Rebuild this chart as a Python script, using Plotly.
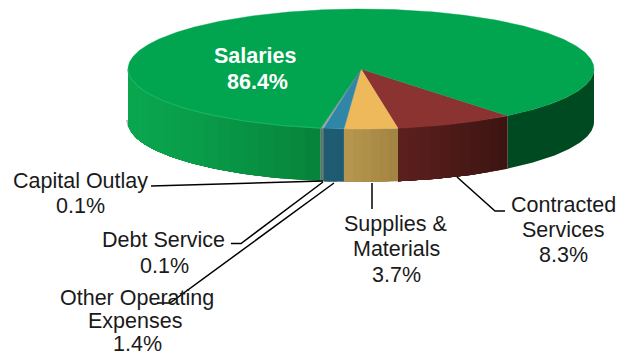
import numpy as np
import plotly.graph_objects as go

categories = ["Contracted Services", "Supplies & Materials", "Other Operating Expenses",
              "Debt Service", "Capital Outlay", "Salaries"]
values = [8.3, 3.7, 1.4, 0.1, 0.1, 86.4]

top_colors = ["#8a3331", "#edb95b", "#2f86a6", "#6f8f8f", "#7a7a70", "#01a44f"]
side_left = ["#5e201e", "#ba9a50", "#1f5d73", "#50686a", "#6a6a60", "#0aa64f"]
side_right = ["#3c1512", "#a38543", "#1f5b70", "#50686a", "#6a6a60", "#004a22"]

CX, CY, RX, RY, DEPTH = 361, 69, 233, 60, 53
START_DEG = 51

fig = go.Figure()


def px(t):
    return CX + RX * np.cos(np.radians(t))


def py(t, d=0):
    return CY + RY * np.sin(np.radians(t)) + d


def lerp(c1, c2, f):
    a = [int(c1[i:i + 2], 16) for i in (1, 3, 5)]
    b = [int(c2[i:i + 2], 16) for i in (1, 3, 5)]
    return "rgb(%d,%d,%d)" % tuple(round(a[i] + (b[i] - a[i]) * f) for i in range(3))


def poly(xs, ys, color, lw=0):
    fig.add_trace(go.Scatter(x=xs, y=ys, mode="lines", fill="toself", fillcolor=color,
                             line=dict(color=color, width=lw), hoverinfo="skip", showlegend=False))


def wall(t0, t1, color):
    ts = np.linspace(t0, t1, max(3, int(abs(t1 - t0)) * 2))
    poly(list(px(ts)) + list(px(ts[::-1])) + [px(ts[0])],
         list(py(ts)) + list(py(ts[::-1], DEPTH)) + [py(ts[0])], color)


edges = START_DEG + np.cumsum([0] + values) * 3.6

# soft shadow under left tail
fig.add_trace(go.Scatter(x=[px(180) - 1, px(176)], y=[py(180, DEPTH) - 2, py(176, DEPTH)], mode="lines",
                         line=dict(color="#b8b8b8", width=2), hoverinfo="skip", showlegend=False))

# dark green wall on right front, up to the first slice
wall(0, START_DEG, side_right[5])

# side wall: strips painted far-to-near so no seams show between them
for i, (a0, a1) in enumerate(zip(edges[:-1], edges[1:])):
    hi = min(a1, 180)
    if hi <= a0:
        continue
    n = max(2, int((px(a0) - px(hi)) / 10) + 2)
    grid = np.linspace(a0, hi, n)
    for g0 in grid[:-1]:
        if categories[i] == "Salaries":
            f = (px(g0) - px(180)) / (px(a0) - px(180))
            col = lerp(side_left[i], "#07843b", f ** 1.3)
        else:
            col = lerp(side_right[i], side_left[i], (g0 - a0) / (a1 - a0))
        wall(g0, hi, col)

# top face
for i, (a0, a1) in enumerate(zip(edges[:-1], edges[1:])):
    ts = np.linspace(a0, a1, max(3, int(a1 - a0) * 2))
    poly([CX] + list(px(ts)) + [CX], [CY] + list(py(ts)) + [CY], top_colors[i], 0.4)

# rim highlight on the green front edge
ts = np.linspace(edges[5], 180, 70)
fig.add_trace(go.Scatter(x=px(ts), y=py(ts), mode="lines", line=dict(color="#17b560", width=1.2),
                         hoverinfo="skip", showlegend=False))

leaders = [
    [(151, 186), (323, 181)],
    [(231, 243.5), (241, 243.5), (323, 182)],
    [(157, 303), (170, 303), (334, 183)],
    [(372, 183), (372, 209)],
    [(457, 177), (495, 211), (505, 211)],
]
for pts in leaders:
    fig.add_trace(go.Scatter(x=[p[0] for p in pts], y=[p[1] for p in pts], mode="lines",
                             line=dict(color="#000000", width=1.5), hoverinfo="skip", showlegend=False))

labels = [
    ("Salaries", 255, 56, "#ffffff", True),
    ("86.4%", 257, 82, "#ffffff", True),
    ("Capital Outlay", 80, 181, "#1a1a1a", False),
    ("0.1%", 80, 206, "#1a1a1a", False),
    ("Debt Service", 163, 240, "#1a1a1a", False),
    ("0.1%", 164, 266, "#1a1a1a", False),
    ("Other Operating", 137, 298, "#1a1a1a", False),
    ("Expenses", 135, 321, "#1a1a1a", False),
    ("1.4%", 137, 344, "#1a1a1a", False),
    ("Supplies &", 395, 224, "#1a1a1a", False),
    ("Materials", 396, 249, "#1a1a1a", False),
    ("3.7%", 396, 275, "#1a1a1a", False),
    ("Contracted", 563, 205, "#1a1a1a", False),
    ("Services", 563, 230, "#1a1a1a", False),
    ("8.3%", 563, 255, "#1a1a1a", False),
]
for text, x, y, color, bold in labels:
    fig.add_annotation(x=x, y=y, text=f"<b>{text}</b>" if bold else text, showarrow=False,
                       xanchor="center", yanchor="middle",
                       font=dict(family="Liberation Sans", size=21.5, color=color))

fig.update_layout(
    width=618, height=356, margin=dict(l=0, r=0, t=0, b=0),
    paper_bgcolor="#ffffff", plot_bgcolor="#ffffff", showlegend=False,
    xaxis=dict(range=[0, 618], visible=False, fixedrange=True),
    yaxis=dict(range=[356, 0], visible=False, fixedrange=True),
)
fig.write_html("out.html", config=dict(displayModeBar=False),
               default_width="618px", default_height="356px",
               post_script="document.body.style.margin='0';document.documentElement.style.overflow='hidden';")
